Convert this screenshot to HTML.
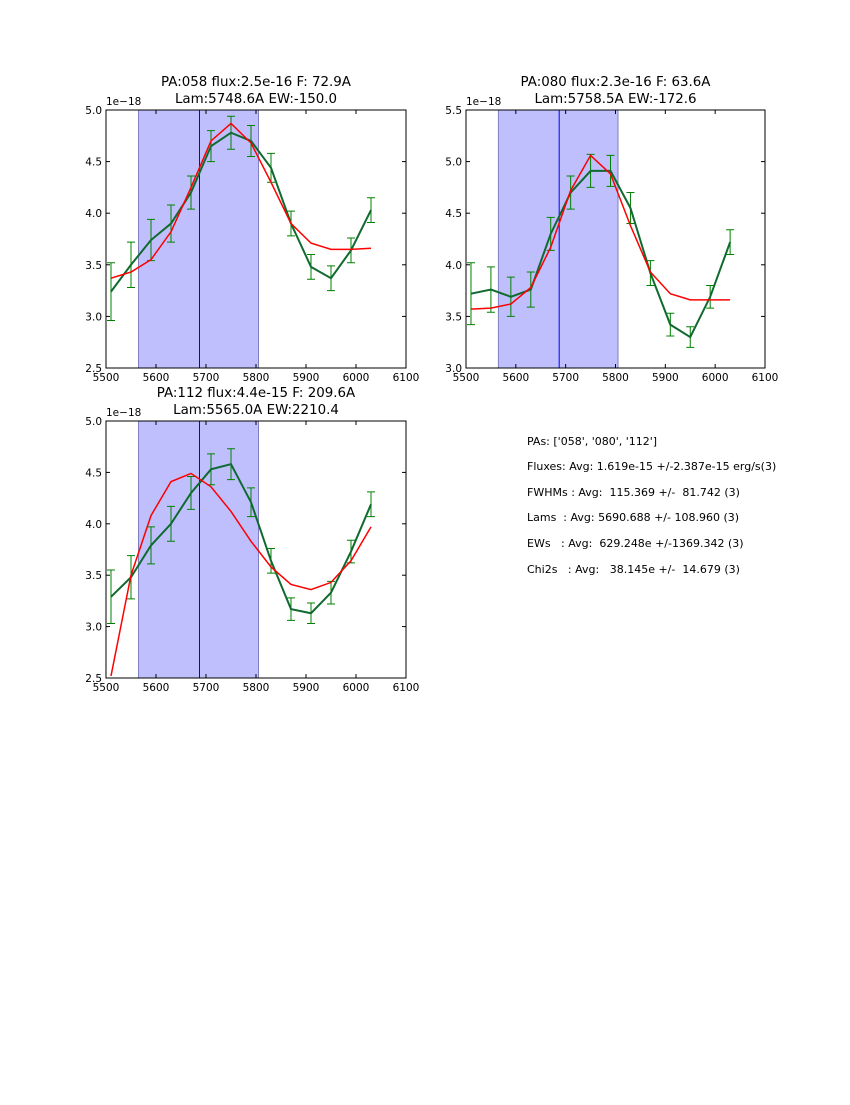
<!DOCTYPE html>
<html><head><meta charset="utf-8"><style>
html,body{margin:0;padding:0;background:#fff;}
svg text{font-family:"DejaVu Sans","Liberation Sans",sans-serif;}
</style></head><body>
<svg id="fig" width="850" height="1100" viewBox="0 0 850 1100" xmlns="http://www.w3.org/2000/svg">
<rect width="850" height="1100" fill="#fff"/>
<g id="stats" font-size="11" fill="#000">
<text x="527" y="445" xml:space="preserve">PAs: ['058', '080', '112']</text>
<text x="527" y="470" xml:space="preserve">Fluxes: Avg: 1.619e-15 +/-2.387e-15 erg/s(3)</text>
<text x="527" y="496" xml:space="preserve">FWHMs : Avg:  115.369 +/-  81.742 (3)</text>
<text x="527" y="521" xml:space="preserve">Lams  : Avg: 5690.688 +/- 108.960 (3)</text>
<text x="527" y="547" xml:space="preserve">EWs   : Avg:  629.248e +/-1369.342 (3)</text>
<text x="527" y="573" xml:space="preserve">Chi2s   : Avg:   38.145e +/-  14.679 (3)</text>
</g>
</svg>
<script>
const xVals=[5510,5550,5590,5630,5670,5710,5750,5790,5830,5870,5910,5950,5990,6030];
const xTicks=[5500,5600,5700,5800,5900,6000,6100];
const titles1=["PA:058 flux:2.5e-16 F: 72.9A","PA:080 flux:2.3e-16 F: 63.6A","PA:112 flux:4.4e-15 F: 209.6A"];
const titles2=["Lam:5748.6A EW:-150.0","Lam:5758.5A EW:-172.6","Lam:5565.0A EW:2210.4"];
const yMins=[2.5,3.0,2.5];
const yMaxs=[5.0,5.5,5.0];
const green1=[3.24,3.5,3.74,3.9,4.2,4.65,4.78,4.7,4.44,3.9,3.48,3.37,3.64,4.03];
const err1=[0.28,0.22,0.2,0.18,0.16,0.15,0.16,0.15,0.14,0.12,0.12,0.12,0.12,0.12];
const red1=[3.37,3.43,3.55,3.82,4.25,4.7,4.87,4.68,4.3,3.9,3.71,3.65,3.65,3.66];
const green2=[3.72,3.76,3.69,3.76,4.3,4.7,4.91,4.91,4.55,3.92,3.42,3.3,3.69,4.22];
const err2=[0.3,0.22,0.19,0.17,0.16,0.16,0.16,0.15,0.15,0.12,0.11,0.1,0.11,0.12];
const red2=[3.57,3.58,3.62,3.78,4.17,4.72,5.06,4.88,4.38,3.93,3.72,3.66,3.66,3.66];
const green3=[3.29,3.48,3.79,4.0,4.3,4.53,4.58,4.21,3.64,3.17,3.13,3.33,3.73,4.19];
const err3=[0.26,0.21,0.18,0.17,0.16,0.15,0.15,0.14,0.12,0.11,0.1,0.11,0.11,0.12];
const red3=[2.52,3.5,4.08,4.41,4.49,4.36,4.12,3.83,3.58,3.41,3.36,3.43,3.64,3.97];
const bandStart=5565, bandEnd=5805, lineX=5687;
const greens=[green1,green2,green3], errs=[err1,err2,err3], reds=[red1,red2,red3];
const boxes=[[106,110,300,258],[466,110,299,258],[106,421,300,257]];
const NS="http://www.w3.org/2000/svg";
const fig=document.getElementById('fig');
function mk(tag,attrs,parent){const e=document.createElementNS(NS,tag);for(const k in attrs)e.setAttribute(k,attrs[k]);parent.appendChild(e);return e;}
for(let p=0;p<3;p++){
  const [L,T,W,H]=boxes[p];
  const yMin=yMins[p], yMax=yMaxs[p];
  const sx=v=>L+(v-5500)/600*W;
  const sy=v=>T+H-(v-yMin)/(yMax-yMin)*H;
  const g=mk('g',{},fig);
  
  
  const band=mk('rect',{x:sx(bandStart),y:T,width:sx(bandEnd)-sx(bandStart),height:H,fill:'#bfbffe',stroke:'#7f7fbf','stroke-width':1},g);
  
  
  const vl=mk('line',{x1:sx(lineX),x2:sx(lineX),y1:T,y2:T+H,stroke:'#0000ff','stroke-width':1},g);
  
  
  for(const t of xTicks){
    const x=sx(t);
    mk('line',{x1:x,x2:x,y1:T+H,y2:T+H-4,stroke:'#000'},g);
    mk('line',{x1:x,x2:x,y1:T,y2:T+4,stroke:'#000'},g);
    const tx=mk('text',{x:x,y:T+H+13,'font-size':10.5,'text-anchor':'middle'},g);
    tx.textContent=t;
    
    
  }
  for(let k=0;k<=5;k++){
    const v=yMin+k*0.5;const y=sy(v);
    mk('line',{x1:L,x2:L+4,y1:y,y2:y,stroke:'#000'},g);
    mk('line',{x1:L+W,x2:L+W-4,y1:y,y2:y,stroke:'#000'},g);
    const ty=mk('text',{x:L-4,y:y+4,'font-size':10.5,'text-anchor':'end'},g);
    ty.textContent=v.toFixed(1);
    
    
  }
  const off=mk('text',{x:L,y:T-5,'font-size':10.5},g);
  off.textContent='1e\u221218';
  
  
  const t1=mk('text',{x:L+W/2,y:T-24,'font-size':13.4,'text-anchor':'middle'},g);
  t1.textContent=titles1[p];
  
  
  const t2=mk('text',{x:L+W/2,y:T-7,'font-size':13.4,'text-anchor':'middle'},g);
  t2.textContent=titles2[p];
  
  
  const gr=greens[p], er=errs[p], rd=reds[p];
  for(let i=0;i<xVals.length;i++){
    const x=sx(xVals[i]);const y1=sy(gr[i]-er[i]), y2=sy(gr[i]+er[i]);
    const eb=mk('path',{d:`M${x},${y1}V${y2}M${x-4},${y1}H${x+4}M${x-4},${y2}H${x+4}`,stroke:'#008000','stroke-width':1,fill:'none'},g);
    
    
  }
  const gl=mk('polyline',{points:xVals.map((v,i)=>sx(v)+','+sy(gr[i])).join(' '),stroke:'#106a30','stroke-width':2,fill:'none'},g);
  
  
  const rl=mk('polyline',{points:xVals.map((v,i)=>sx(v)+','+sy(rd[i])).join(' '),stroke:'#ff0000','stroke-width':1.5,fill:'none'},g);
  
  
  const fr=mk('rect',{x:L,y:T,width:W,height:H,fill:'none',stroke:'#000','stroke-width':1},g);
  
  
}
</script>
</body></html>
